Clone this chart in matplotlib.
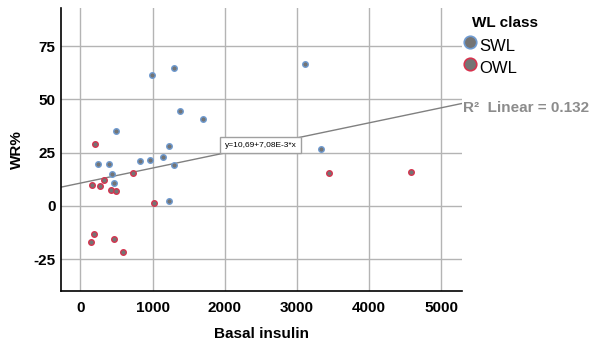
import numpy as np
import matplotlib.pyplot as plt

plt.rcParams['font.family'] = ['Liberation Sans', 'DejaVu Sans']
plt.rcParams['axes.unicode_minus'] = False

# ------------------------- data --------------------------------
swl_x = [997, 1302, 1385, 1695, 494, 1224, 241, 402, 827, 970, 1141, 1294,
         439, 462, 1224, 3116, 3334]
swl_y = [61.7, 64.8, 44.4, 40.9, 35.0, 27.9, 19.7, 19.8, 21.2, 21.5, 22.8,
         19.0, 14.8, 10.8, 2.5, 66.6, 26.5]

owl_x = [208, 725, 333, 162, 268, 430, 499, 1025, 190, 148, 467, 591,
         3445, 4580]
owl_y = [29.3, 15.3, 12.0, 10.0, 9.4, 7.3, 6.8, 1.4, -13.3, -17.2, -15.6,
         -21.9, 15.3, 15.7]

intercept = 10.69
slope = 7.08e-3
r2 = 0.132

x_ticks = [0, 1000, 2000, 3000, 4000, 5000]
y_ticks = [-25, 0, 25, 50, 75]

# ------------------------- plot --------------------------------
fig = plt.figure(figsize=(5.89, 3.44), dpi=100)
ax = fig.add_axes([0.1036, 0.154, 0.6804, 0.823])
ax.set_xlim(-267, 5283)
ax.set_ylim(-40, 93)

ax.set_xticks(x_ticks)
ax.set_yticks(y_ticks)
ax.grid(True, color='#b4b4b4', linewidth=1)
ax.set_axisbelow(True)
for side in ['top', 'right']:
    ax.spines[side].set_visible(False)
for side in ['left', 'bottom']:
    ax.spines[side].set_linewidth(1.2)
ax.tick_params(length=0, labelsize=11)
ax.tick_params(axis='x', pad=7)
ax.tick_params(axis='y', pad=4)
for lab in ax.get_xticklabels() + ax.get_yticklabels():
    lab.set_fontweight('bold')

fill = '#747474'
ax.scatter(swl_x, swl_y, s=16, c=fill, edgecolors='#6f9bd1', linewidths=1,
           zorder=3)
ax.scatter(owl_x, owl_y, s=16, c=fill, edgecolors='#d6334e', linewidths=1,
           zorder=3)

# fit line
xl = np.array(ax.get_xlim())
ax.plot(xl, intercept + slope * xl, color='#808080', linewidth=1, zorder=2)
ax.text(2500, 28.5, 'y=10,69+7,08E-3*x', fontsize=6, ha='center',
        va='center', zorder=4,
        bbox=dict(boxstyle='square,pad=0.55', fc='white', ec='#a0a0a0',
                  lw=1))

ax.set_xlabel('Basal insulin', fontsize=11, fontweight='bold', labelpad=9)
ax.set_ylabel('WR%', fontsize=11, fontweight='bold', labelpad=7)

fig.text(0.786, 0.686, 'R²  Linear = ' + str(r2), fontsize=11,
         fontweight='bold', color='#8c8c8c', va='center')

# legend
fig.text(0.801, 0.933, 'WL class', fontsize=11, fontweight='bold',
         va='center')
fig.lines.append(plt.Line2D([0.798], [0.877], marker='o', markersize=9,
                            mfc=fill, mec='#6f9bd1', mew=1.2,
                            transform=fig.transFigure))
fig.lines.append(plt.Line2D([0.798], [0.813], marker='o', markersize=9,
                            mfc=fill, mec='#d6334e', mew=1.2,
                            transform=fig.transFigure))
fig.text(0.814, 0.866, 'SWL', fontsize=12, va='center')
fig.text(0.814, 0.802, 'OWL', fontsize=12, va='center')

fig.savefig('out.png', dpi=100)
